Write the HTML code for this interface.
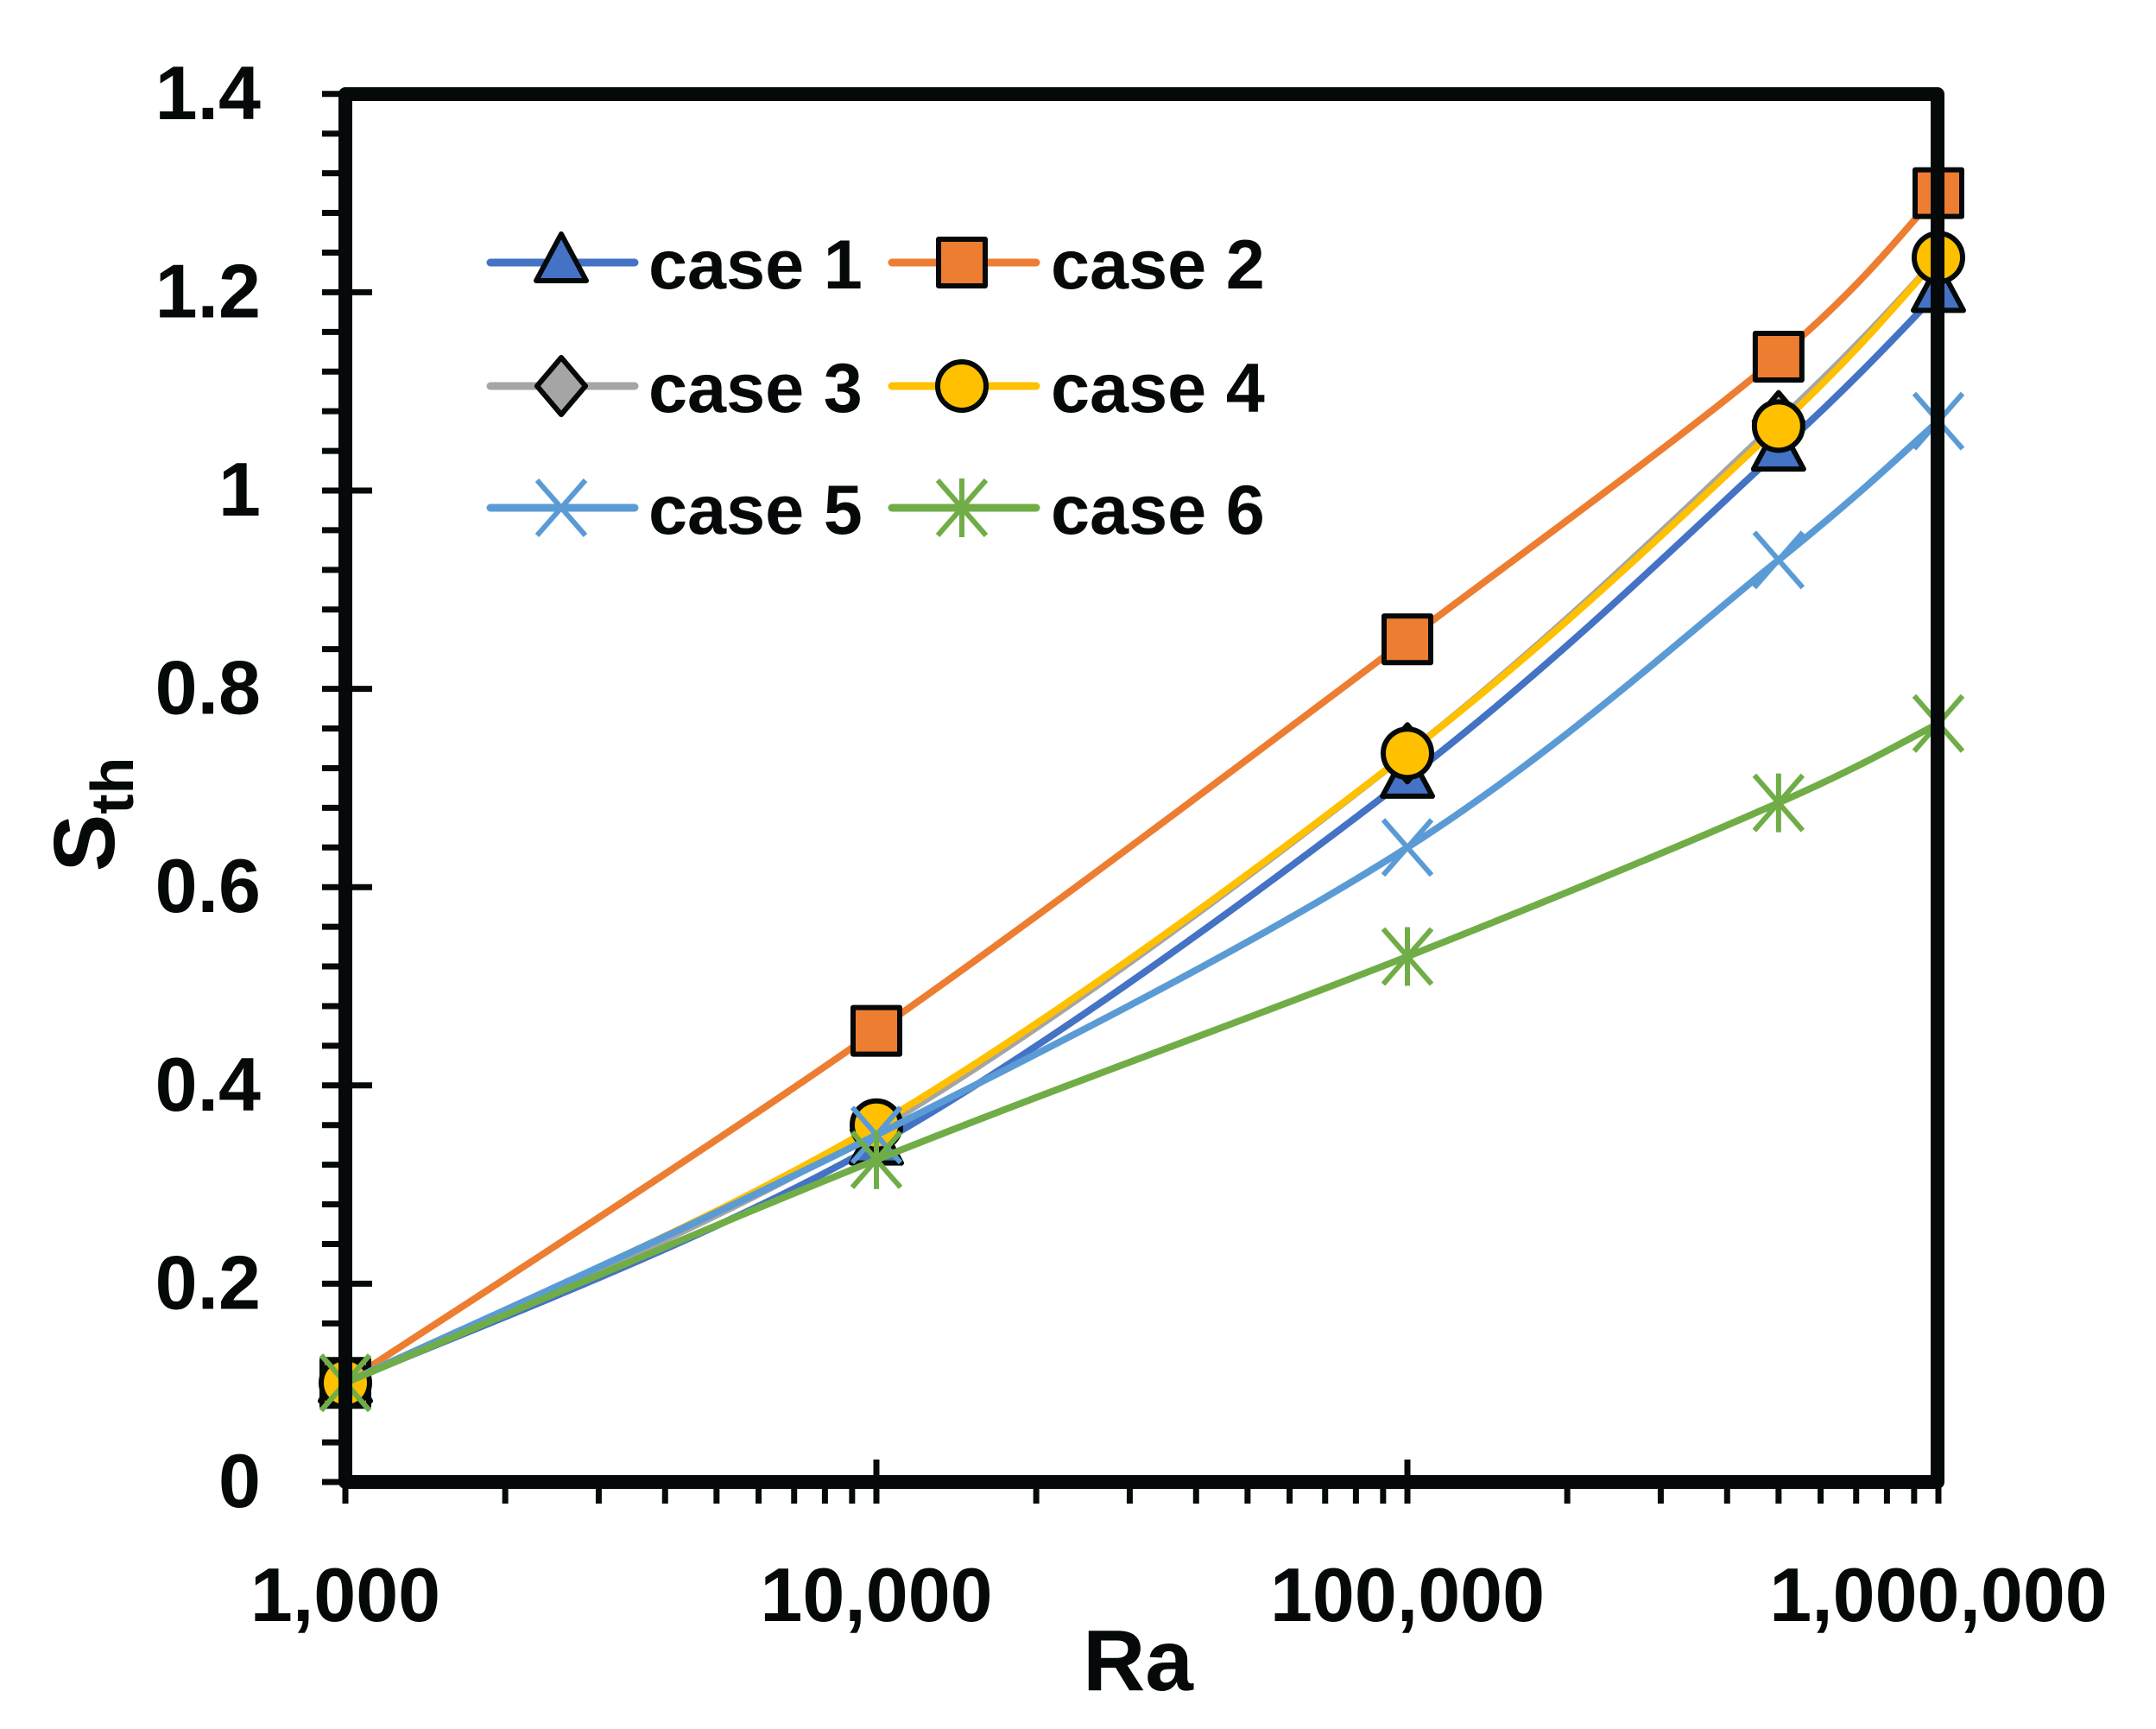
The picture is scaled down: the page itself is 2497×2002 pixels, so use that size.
<!DOCTYPE html>
<html><head><meta charset="utf-8"><style>
html,body{margin:0;padding:0;background:#fff;}
svg{display:block;}
text{font-family:"Liberation Sans",sans-serif;font-weight:bold;fill:#050909;}
</style></head><body>
<svg id="s" width="2497" height="2002" viewBox="0 0 2497 2002" xmlns="http://www.w3.org/2000/svg">
<g id="axes"></g>
<g id="series"></g>
<g id="frame"></g>
<g id="legend"></g>
<text x="300" y="0" id="dummy"></text>
</svg>
<script>
const NS="http://www.w3.org/2000/svg";
function el(p,t,a,txt){const e=document.createElementNS(NS,t);for(const k in a)e.setAttribute(k,a[k]);if(txt!==undefined)e.textContent=txt;p.appendChild(e);return e;}
const X=v=>400+615*Math.log10(v/1000), Y=s=>1716-1148*s;
const L=400,R=2244,T=109,B=1716;
const ax=document.getElementById('axes'),fr=document.getElementById('frame'),se=document.getElementById('series'),lg=document.getElementById('legend');
// y ticks
for(let i=0;i<=35;i++){const s=i*0.04,y=Y(s);
 if(i%5===0){el(ax,'line',{x1:373,x2:431,y1:y,y2:y,stroke:'#050909','stroke-width':7});
  el(ax,'text',{x:302,y:y+29,'font-size':88,'text-anchor':'end'},(i===0?'0':i===25?'1':(s).toFixed(1)));}
 else el(ax,'line',{x1:373,x2:399,y1:y,y2:y,stroke:'#050909','stroke-width':7});}
// x ticks
for(let d=3;d<6;d++)for(let m=1;m<10;m++){const v=m*Math.pow(10,d),x=X(v);
 el(ax,'line',{x1:x,x2:x,y1:m===1?1690:1716,y2:1741,stroke:'#050909','stroke-width':7});}
el(ax,'line',{x1:X(1e6),x2:X(1e6),y1:1716,y2:1741,stroke:'#050909','stroke-width':7});
[[1e3,'1,000'],[1e4,'10,000'],[1e5,'100,000'],[1e6,'1,000,000']].forEach(([v,t])=>el(ax,'text',{x:X(v),y:1877,'font-size':88,'text-anchor':'middle'},t));
el(ax,'text',{x:1318,y:1957,'font-size':100,'text-anchor':'middle'},'Ra');
const yl=el(ax,'text',{transform:'translate(132,943) rotate(-90)','font-size':100,'text-anchor':'middle'});
yl.innerHTML='S<tspan font-size="70" dy="22">th</tspan>';
el(fr,'rect',{x:L,y:T,width:R-L,height:B-T,fill:'none',stroke:'#050909','stroke-width':16,'stroke-linejoin':'round'});
const xs=[1e3,1e4,1e5,5e5,1e6];
const data=[
 ['#4472C4','tri',[0.1,0.34,0.71,1.04,1.2]],
 ['#ED7D31','sq',[0.1,0.455,0.85,1.135,1.3]],
 ['#A5A5A5','dia',[0.1,0.355,0.735,1.07,1.235]],
 ['#FFC000','circ',[0.1,0.36,0.735,1.065,1.235]],
 ['#5B9BD5','x',[0.1,0.35,0.64,0.93,1.07]],
 ['#70AD47','star',[0.1,0.325,0.53,0.685,0.765]]];
function path(pts){let d='M'+pts[0][0]+','+pts[0][1];const t=1/6;
 for(let i=0;i<pts.length-1;i++){const p0=pts[Math.max(0,i-1)],p1=pts[i],p2=pts[i+1],p3=pts[Math.min(pts.length-1,i+2)];
  d+=' C'+(p1[0]+(p2[0]-p0[0])*t)+','+(p1[1]+(p2[1]-p0[1])*t)+' '+(p2[0]-(p3[0]-p1[0])*t)+','+(p2[1]-(p3[1]-p1[1])*t)+' '+p2[0]+','+p2[1];}
 return d;}
function marker(g,type,c,x,y){
 const st={stroke:'#050909','stroke-width':6,'stroke-linejoin':'round'};
 if(type==='tri')el(g,'polygon',Object.assign({points:`${x},${y-33} ${x+29},${y+21} ${x-29},${y+21}`,fill:c},st));
 if(type==='sq')el(g,'rect',Object.assign({x:x-27,y:y-27,width:54,height:54,fill:c},st));
 if(type==='dia')el(g,'polygon',Object.assign({points:`${x},${y-33} ${x+28},${y} ${x},${y+33} ${x-28},${y}`,fill:c},st));
 if(type==='circ')el(g,'circle',Object.assign({cx:x,cy:y,r:28,fill:c},st));
 if(type==='x'){el(g,'path',{d:`M${x-28},${y-32}L${x+28},${y+32}M${x+28},${y-32}L${x-28},${y+32}`,stroke:c,'stroke-width':6});}
 if(type==='star'){el(g,'path',{d:`M${x-28},${y-32}L${x+28},${y+32}M${x+28},${y-32}L${x-28},${y+32}M${x},${y-34}L${x},${y+34}`,stroke:c,'stroke-width':6});}
}
data.forEach(([c,m,ys])=>{const pts=xs.map((v,i)=>[X(v),Y(ys[i])]);
 el(se,'path',{d:path(pts),fill:'none',stroke:c,'stroke-width':8,'stroke-linecap':'round'});
 pts.forEach(p=>marker(se,m,c,p[0],p[1]));});
// legend
const rows=[304,447,588];
data.forEach(([c,m],i)=>{const col=i%2,row=Math.floor(i/2),y=rows[row];
 const x1=col?1033:568,x2=col?1200:735,mx=col?1114:650,tx=col?1217:751;
 el(lg,'line',{x1:x1,x2:x2,y1:y,y2:y,stroke:c,'stroke-width':9,'stroke-linecap':'round'});
 marker(lg,m,c,mx,y);
 el(lg,'text',{x:tx,y:y+30,'font-size':81},'case '+(i+1));});
</script>
</body></html>
